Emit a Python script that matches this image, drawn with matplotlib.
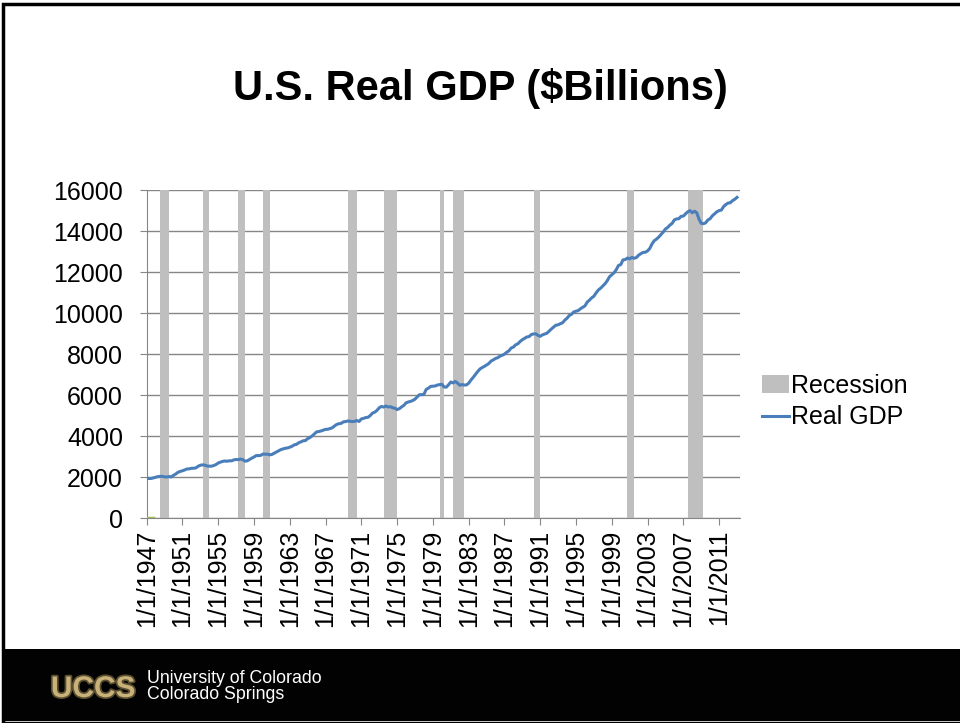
import matplotlib
matplotlib.use("Agg")
import matplotlib.pyplot as plt
import matplotlib.patheffects as pe
from matplotlib.patches import Rectangle
import numpy as np

plt.rcParams['font.family'] = ['Liberation Sans', 'DejaVu Sans']

# real GDP, billions of chained 2005 dollars, quarterly from 1947Q1
gdp = [
    1932.6, 1930.4, 1928.4, 1958.8,    # 1947
    1987.6, 2019.9, 2031.2, 2033.3,    # 1948
    2007.5, 2000.8, 2022.8, 2004.7,    # 1949
    2084.6, 2147.6, 2230.4, 2273.4,    # 1950
    2304.5, 2344.5, 2392.8, 2398.1,    # 1951
    2423.5, 2428.5, 2446.1, 2526.4,    # 1952
    2573.4, 2593.5, 2578.9, 2539.8,    # 1953
    2528.0, 2530.7, 2559.4, 2609.3,    # 1954
    2683.8, 2727.5, 2764.1, 2780.8,    # 1955
    2770.0, 2792.9, 2790.6, 2836.2,    # 1956
    2854.5, 2848.2, 2875.9, 2846.4,    # 1957
    2772.7, 2790.9, 2855.5, 2922.3,    # 1958
    2976.6, 3049.0, 3043.1, 3055.1,    # 1959
    3123.2, 3111.3, 3119.1, 3081.3,    # 1960
    3102.3, 3159.9, 3212.6, 3277.7,    # 1961
    3336.8, 3372.7, 3404.8, 3418.0,    # 1962
    3456.1, 3501.1, 3569.5, 3595.0,    # 1963
    3672.7, 3716.4, 3766.9, 3780.2,    # 1964
    3873.5, 3926.4, 4006.2, 4100.6,    # 1965
    4201.9, 4219.1, 4249.2, 4285.6,    # 1966
    4324.9, 4328.7, 4366.1, 4401.2,    # 1967
    4490.6, 4566.4, 4599.3, 4619.8,    # 1968
    4691.6, 4706.7, 4736.1, 4715.5,    # 1969
    4707.1, 4715.4, 4757.2, 4708.3,    # 1970
    4834.3, 4861.9, 4900.0, 4914.3,    # 1971
    5002.4, 5118.3, 5165.4, 5251.2,    # 1972
    5380.5, 5441.5, 5411.9, 5462.4,    # 1973
    5417.0, 5431.3, 5378.7, 5357.2,    # 1974
    5292.4, 5333.2, 5421.4, 5494.4,    # 1975
    5618.5, 5661.0, 5689.8, 5732.5,    # 1976
    5799.2, 5913.0, 6017.6, 6018.2,    # 1977
    6039.2, 6274.0, 6335.3, 6420.3,    # 1978
    6433.0, 6440.8, 6487.1, 6503.9,    # 1979
    6524.9, 6392.6, 6382.9, 6501.2,    # 1980
    6635.7, 6587.3, 6662.9, 6585.1,    # 1981
    6475.0, 6510.2, 6486.8, 6493.1,    # 1982
    6578.2, 6728.3, 6860.0, 7001.5,    # 1983
    7140.6, 7266.0, 7337.5, 7396.0,    # 1984
    7469.5, 7537.9, 7655.2, 7712.6,    # 1985
    7784.1, 7819.8, 7898.6, 7939.5,    # 1986
    7995.0, 8084.7, 8158.0, 8292.7,    # 1987
    8339.3, 8449.5, 8498.3, 8610.9,    # 1988
    8697.7, 8766.1, 8831.5, 8850.2,    # 1989
    8947.1, 8981.7, 8983.9, 8907.4,    # 1990
    8865.6, 8934.4, 8977.3, 9016.4,    # 1991
    9123.0, 9223.5, 9313.2, 9406.5,    # 1992
    9424.1, 9480.1, 9526.3, 9653.5,    # 1993
    9748.2, 9881.4, 9939.7, 10052.5,   # 1994
    10086.9, 10122.1, 10208.8, 10281.2,  # 1995
    10348.7, 10529.4, 10626.8, 10739.1,  # 1996
    10820.9, 10984.2, 11124.0, 11210.3,  # 1997
    11321.2, 11431.0, 11580.6, 11770.7,  # 1998
    11864.7, 11962.5, 12113.1, 12323.3,  # 1999
    12359.1, 12592.5, 12607.7, 12679.3,  # 2000
    12643.3, 12710.3, 12670.1, 12705.3,  # 2001
    12822.3, 12893.0, 12955.8, 12964.0,  # 2002
    13031.2, 13152.1, 13372.4, 13528.7,  # 2003
    13606.5, 13706.2, 13830.8, 13950.4,  # 2004
    14099.1, 14172.7, 14291.8, 14373.4,  # 2005
    14546.1, 14589.6, 14602.6, 14716.9,  # 2006
    14726.0, 14838.7, 14938.5, 14991.8,  # 2007
    14889.5, 14963.4, 14891.6, 14577.0,  # 2008
    14375.0, 14355.6, 14402.5, 14541.9,  # 2009
    14604.8, 14745.9, 14845.5, 14939.0,  # 2010
    14996.1, 15021.1, 15190.3, 15291.0,  # 2011
    15362.4, 15380.8, 15479.7, 15550.0,  # 2012
    15640.0,                             # 2013
]

# recession periods (start, end) in years
rec_start = [1948.5, 1953.25, 1957.25, 1960.0, 1969.5, 1973.5,
             1979.75, 1981.25, 1990.25, 2000.75, 2007.5]
rec_end = [1949.5, 1954.0, 1958.0, 1960.75, 1970.5, 1975.0,
           1980.25, 1982.5, 1991.0, 2001.5, 2009.25]
rec_height = 16000

tick_years = list(range(1947, 2012, 4))
tick_labels = ['1/1/%d' % y for y in tick_years]

dates = 1947 + np.arange(len(gdp)) * 0.25

fig = plt.figure(figsize=(9.6, 7.23), dpi=100)

# slide frame and footer
fig.add_artist(Rectangle((0.0035, 0.0), 1.2, 0.9945, transform=fig.transFigure,
                         fill=False, edgecolor='black', linewidth=2.5))
fig.add_artist(Rectangle((0.004, 0.003), 1, 0.1, transform=fig.transFigure,
                         facecolor='#020202', edgecolor='none'))

fig.text(0.5, 0.877, 'U.S. Real GDP ($Billions)', ha='center', va='center',
         fontsize=30, fontweight='bold')

ax = fig.add_axes([0.1528, 0.2835, 0.618, 0.4537])
bars = ax.bar(rec_start, rec_height, width=np.array(rec_end) - np.array(rec_start),
              align='edge', color='#BFBFBF', label='Recession', zorder=2)
line, = ax.plot(dates, gdp, color='#4A7EBB', linewidth=2.2, label='Real GDP', zorder=3)
ax.plot(dates[:4], [0, 0, 0, 0], color='#9BBB59', linewidth=2.5, zorder=3)

ax.set_xlim(1947, 2013.33)
ax.set_ylim(0, 16000)
ax.set_yticks(range(0, 16001, 2000))
ax.set_xticks(tick_years)
ax.set_xticklabels(tick_labels, rotation=90)
ax.tick_params(axis='both', labelsize=18, length=5, color='#868686')
ax.tick_params(axis='y', pad=12)
ax.grid(axis='y', color='#868686', linewidth=1)
ax.set_axisbelow(True)
for side in ['top', 'right']:
    ax.spines[side].set_visible(False)
ax.spines['left'].set_color('#868686')
ax.spines['bottom'].set_color('#868686')

ax.legend([bars, line], ['Recession', 'Real GDP'], loc='center left',
          bbox_to_anchor=(1.02, 0.355), frameon=False, fontsize=18,
          handlelength=1.1, handletextpad=0.05, labelspacing=0.3,
          borderaxespad=0)

# footer logo
fig.text(0.053, 0.047, 'UCCS', fontsize=21.5, fontweight='bold', color='#C8B27A',
         va='center', ha='left',
         path_effects=[pe.withStroke(linewidth=2.5, foreground='#5a4e30')])
fig.text(0.153, 0.062, 'University of Colorado', fontsize=12.8, color='white',
         va='center', ha='left')
fig.text(0.153, 0.039, 'Colorado Springs', fontsize=12.8, color='white',
         va='center', ha='left')

fig.savefig('out.png', dpi=100)
